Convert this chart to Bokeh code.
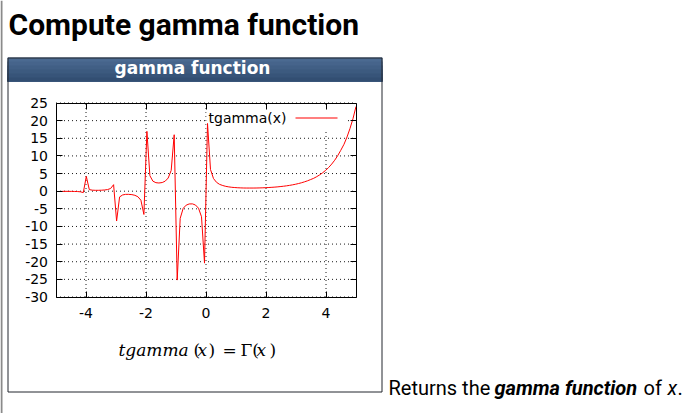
from bokeh.plotting import figure
from bokeh.models import LinearAxis, Label, BoxAnnotation, FixedTicker, Range1d
from bokeh.embed import file_html
from bokeh.resources import INLINE

# ---- data (gnuplot samples of tgamma(x)) ----
x_vals = [-4.90, -4.80, -4.70, -4.60, -4.49, -4.39, -4.29, -4.19, -4.09,
          -3.99, -3.89, -3.79, -3.69, -3.59, -3.48, -3.38, -3.28, -3.18, -3.08,
          -2.98, -2.88, -2.78, -2.68, -2.58, -2.47, -2.37, -2.27, -2.17, -2.07,
          -1.97, -1.87, -1.77, -1.67, -1.57, -1.46, -1.36, -1.26, -1.16, -1.06,
          -0.96, -0.86, -0.76, -0.66, -0.56, -0.45, -0.35, -0.25, -0.15, -0.05,
          0.05, 0.15, 0.25, 0.35, 0.45, 0.56, 0.66, 0.76, 0.86, 0.96,
          1.06, 1.16, 1.26, 1.36, 1.46, 1.57, 1.67, 1.77, 1.87, 1.97,
          2.07, 2.17, 2.27, 2.37, 2.47, 2.58, 2.68, 2.78, 2.88, 2.98,
          3.08, 3.18, 3.28, 3.38, 3.48, 3.59, 3.69, 3.79, 3.89, 3.99,
          4.09, 4.19, 4.29, 4.39, 4.49, 4.60, 4.70, 4.80, 4.90, 5.00]
y_vals = [-0.10, -0.06, -0.05, -0.05, -0.06, -0.08, -0.10, -0.17, -0.40,
          4.19, 0.45, 0.29, 0.25, 0.25, 0.28, 0.34, 0.46, 0.76, 1.85,
          -8.46, -1.63, -1.07, -0.90, -0.90, -0.98, -1.17, -1.58, -2.56, -6.6,
          16.96, 4.38, 2.84, 2.41, 2.32, 2.45, 2.84, 3.73, 5.9, 16.0,
          -25.2, -7.7, -4.86, -3.96, -3.62, -3.60, -3.93, -4.82, -7.24, -20.4,
          19.2, 6.13, 3.58, 2.52, 1.94, 1.60, 1.37, 1.22, 1.10, 1.03,
          0.97, 0.93, 0.90, 0.89, 0.89, 0.89, 0.90, 0.92, 0.95, 0.99,
          1.03, 1.08, 1.14, 1.21, 1.30, 1.40, 1.51, 1.64, 1.79, 1.96,
          2.16, 2.38, 2.64, 2.93, 3.27, 3.65, 4.11, 4.63, 5.23, 5.92,
          6.73, 7.68, 8.78, 10.06, 11.55, 13.3, 15.36, 17.78, 20.6, 24.0]
x_ticks = [-4, -2, 0, 2, 4]
y_ticks = [-30, -25, -20, -15, -10, -5, 0, 5, 10, 15, 20, 25]
x_lim = [-5, 5]
y_lim = [-30, 25]
series_name = "tgamma(x)"

W, H = 697, 413
FL, FR, FT, FB = 55.5, 355.5, 102.5, 296.5  # plot-area edges in page pixels (from top-left)

# the figure's frame covers the whole page (page-pixel coordinates, y downwards);
# the gamma chart uses extra ranges chosen so that x_lim/y_lim land on FL..FR / FB..FT
kx = (FR - FL) / (x_lim[1] - x_lim[0])
ky = (FB - FT) / (y_lim[1] - y_lim[0])
gx = Range1d(x_lim[0] - FL / kx, x_lim[0] + (W - FL) / kx)
gy = Range1d(y_lim[0] - (H - FB) / ky, y_lim[1] + FT / ky)

p = figure(width=W, height=H, x_range=Range1d(0, W), y_range=Range1d(H, 0),
           output_backend="svg", toolbar_location=None,
           x_axis_type=None, y_axis_type=None, min_border=0)
p.extra_x_ranges = {"g": gx}
p.extra_y_ranges = {"g": gy}
p.background_fill_color = "white"
p.border_fill_color = "white"
p.outline_line_color = None
p.grid.visible = False

# ---- page decorations (page pixels) ----
p.add_layout(BoxAnnotation(left=0, right=2, top=0, bottom=H, fill_color="#8a8a8a",
                           fill_alpha=1, line_color=None, level="underlay"))
# header bar: overlapping bands (each reaching the bottom) give a soft vertical gradient
strips = ["#4b6a91", "#46648b", "#415f85", "#3c5a7f", "#375479", "#324e72"]
hb_top, hb_bot = 57, 81
step = (hb_bot - hb_top) / len(strips)
for i, c in enumerate(strips):
    p.add_layout(BoxAnnotation(left=7, right=382, top=hb_top + i * step, bottom=hb_bot,
                               fill_color=c, fill_alpha=1, line_color=None, level="underlay"))
# panel border
p.quad(left=[7.5], right=[381.5], top=[57.5], bottom=[391.5],
       fill_color=None, line_color="#22272e", line_width=1)

# ---- gamma chart ----
grid_kw = dict(line_color="#1a1a1a", line_dash="1 3", line_width=1,
               x_range_name="g", y_range_name="g")
p.segment(x0=x_ticks, y0=[y_lim[0]] * len(x_ticks), x1=x_ticks, y1=[y_lim[1]] * len(x_ticks),
          **grid_kw)
p.segment(x0=[x_lim[0]] * len(y_ticks), y0=y_ticks, x1=[x_lim[1]] * len(y_ticks), y1=y_ticks,
          **grid_kw)

# opaque key box (gnuplot "key opaque") masking the grid behind the legend
p.quad(left=[206], right=[346], top=[107], bottom=[129], fill_color="white",
       line_color=None)

p.line(x_vals, y_vals, line_color="#ff0000", line_width=1,
       x_range_name="g", y_range_name="g")


def make_axis(ticks, bounds, loc, show_labels, standoff=8):
    ax = LinearAxis(ticker=FixedTicker(ticks=ticks), x_range_name="g", y_range_name="g",
                    fixed_location=loc, bounds=tuple(bounds))
    ax.axis_line_color = "black"
    ax.axis_line_width = 1
    ax.major_tick_in = 6
    ax.major_tick_out = 0
    ax.major_tick_line_color = "black"
    ax.minor_tick_line_color = None
    ax.major_label_text_font = "DejaVu Sans"
    ax.major_label_text_font_size = "14px"
    ax.major_label_text_color = "black"
    ax.major_label_standoff = standoff
    ax.major_label_overrides = {t: str(t) for t in ticks}
    if not show_labels:
        ax.major_label_text_alpha = 0
    return ax


p.add_layout(make_axis(x_ticks, x_lim, y_lim[0], True, 11), "below")
p.add_layout(make_axis(y_ticks, y_lim, x_lim[0], True, 8), "left")
p.add_layout(make_axis(x_ticks, x_lim, y_lim[1], False), "above")
p.add_layout(make_axis(y_ticks, y_lim, x_lim[1], False), "right")

# legend (gnuplot style: text, then sample line)
p.segment(x0=[295], y0=[117.5], x1=[337], y1=[117.5], line_color="#ff0000", line_width=1.2)

DY = -8  # correction between requested and rendered text baseline


def label(x, y, text, font, size, style="normal", color="black", align="left", dy=DY):
    p.add_layout(Label(x=x, y=y + dy, text=text,
                       text_font=font, text_font_size=size, text_font_style=style,
                       text_color=color, text_align=align, text_baseline="alphabetic"))


label(208, 124, series_name, "DejaVu Sans", "14px", dy=-7)
label(8, 32, "Compute gamma function", "Roboto", "30px", "bold")
label(192, 75, "gamma function", "DejaVu Sans", "17px", "bold", "white", "center")

# formula
label(118, 357, "tgamma", "DejaVu Serif", "17px", "italic")
label(193, 357, "(", "DejaVu Serif", "17px")
label(197, 357, "x", "DejaVu Serif", "17px", "italic")
label(208, 357, ")", "DejaVu Serif", "17px")
label(222, 357, "=", "DejaVu Serif", "17px")
label(240, 357, "Γ(", "DejaVu Serif", "17px")
label(256, 357, "x", "DejaVu Serif", "17px", "italic")
label(269, 357, ")", "DejaVu Serif", "17px")

# description text
label(388, 395, "Returns the", "Roboto", "20px")
label(494, 395, "gamma function", "Roboto", "20px", "bold italic")
label(643, 395, "of", "Roboto", "20px")
label(667, 395, "x", "Roboto", "20px", "italic")
label(677, 395, ".", "Roboto", "20px")

open("out.html", "w").write(file_html(p, INLINE))
